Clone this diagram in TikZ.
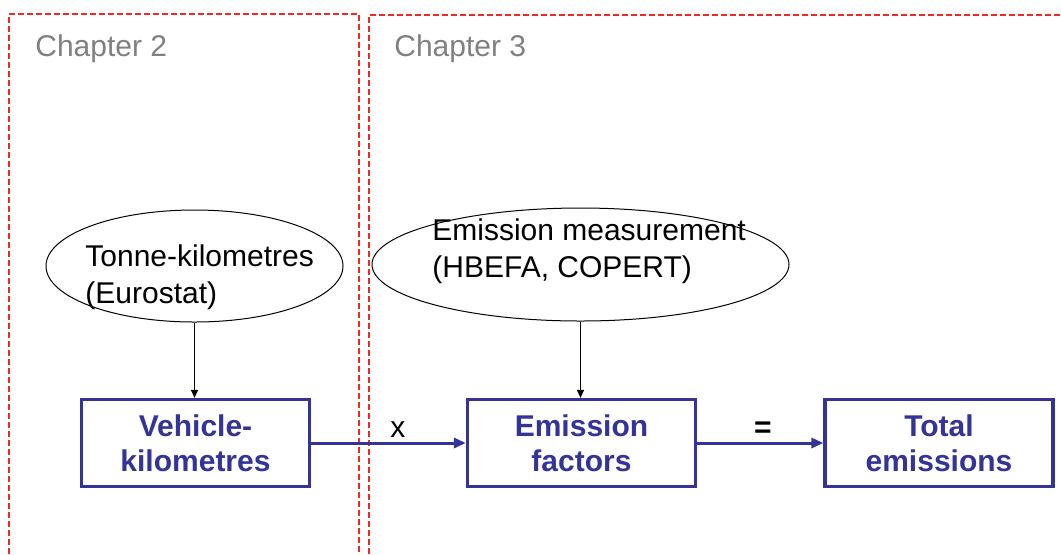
\documentclass[tikz,border=0pt]{standalone}
\usepackage{fontspec}
\setmainfont{Liberation Sans}
\usetikzlibrary{shapes.geometric, arrows.meta, positioning}
\definecolor{boxblue}{RGB}{51,51,153}
\definecolor{chaptergray}{RGB}{128,128,128}
\definecolor{framered}{RGB}{240,40,40}
\tikzset{
  chapter frame/.style={draw=framered, line width=0.6pt, dash pattern=on 3pt off 1.5pt},
  chapter title/.style={anchor=base west, inner sep=0pt, text=chaptergray,
    font=\fontsize{15}{18.5}\selectfont},
  source/.style={ellipse, draw, line width=0.5pt, inner sep=0pt},
  source text/.style={anchor=base west, inner sep=0pt, align=left,
    font=\fontsize{15}{18.5}\selectfont},
  quantity/.style={rectangle, draw=boxblue, line width=1.6pt, text=boxblue, align=center,
    minimum width=114pt, minimum height=43.5pt, inner sep=0pt,
    font=\fontsize{15}{17.5}\selectfont\bfseries},
  feeds/.style={-{Triangle[length=4pt, width=3.5pt]}, line width=0.5pt},
  combine/.style={-{Triangle[length=6pt, width=5pt]}, draw=boxblue, line width=1.5pt},
  operator/.style={above, inner sep=2pt, font=\fontsize{15}{18}\selectfont},
}

\begin{document}
\begin{tikzpicture}[x=0.5pt, y=-0.5pt]
      \useasboundingbox (0,0) rectangle (1061,554);

      % chapter frames
      \draw[chapter frame] (9,554) -- (9,14) -- (359,14) -- (359,554);
      \draw[chapter frame] (369,554) -- (369,15) -- (1061,15);
      \node[chapter title] (ch2) at (35,56)  {Chapter 2};
      \node[chapter title] (ch3) at (394,56) {Chapter 3};

      % data sources
      \node[source, minimum width=148.5pt, minimum height=56pt]   (tkm) at (194.5,266) {};
      \node[source, minimum width=208.5pt, minimum height=56.5pt] (em)  at (580.5,264.5) {};
      \node[source text] (tkm-text) at (85,303)  {Tonne-kilometres\\(Eurostat)};
      \node[source text] (em-text)  at (432,277) {Emission measurement\\(HBEFA, COPERT)};

      % quantities
      \node[quantity] (vkm) at (195.5,443) {Vehicle-\\kilometres};
      \node[quantity] (ef)  at (581.5,443) {Emission\\factors};
      \node[quantity] (tot) at (939,443)   {Total\\emissions};

      \draw[feeds] (tkm.south) -- (tkm.south |- vkm.north);
      \draw[feeds] (em.south)  -- (em.south |- ef.north);

      \draw[combine] (vkm.east) -- node[operator, pos=0.56] (times) {x} (ef.west);
      \draw[combine] (ef.east)  -- node[operator, pos=0.52, font=\fontsize{15}{18}\selectfont\bfseries] (equals) {=} (tot.west);
\end{tikzpicture}
\end{document}
